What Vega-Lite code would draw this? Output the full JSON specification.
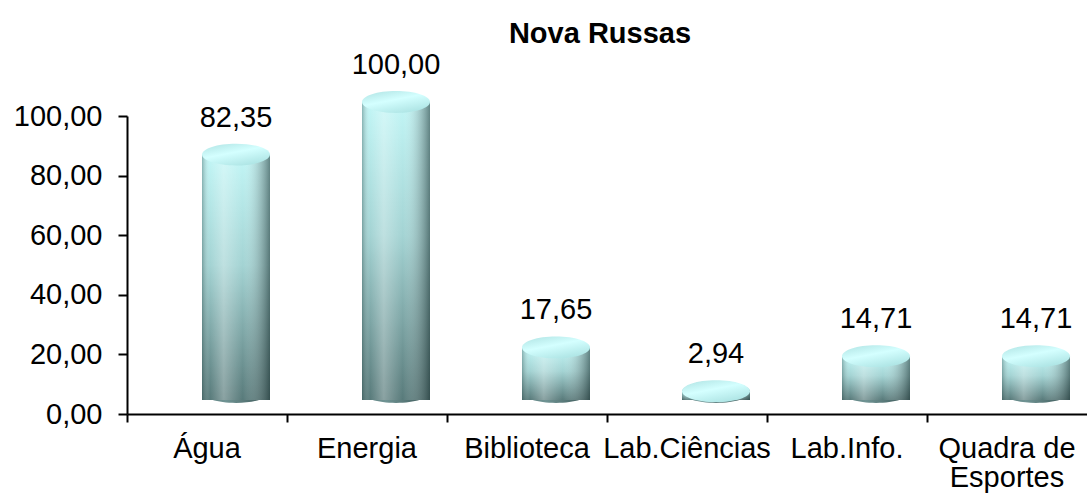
{
  "$schema": "https://vega.github.io/schema/vega-lite/v6.json",
  "autosize": "none",
  "width": 960,
  "height": 298,
  "padding": {"left": 127, "top": 116, "right": 0, "bottom": 83},
  "background": "white",
  "title": {"text": "Nova Russas", "font": "Liberation Sans", "fontSize": 29, "fontWeight": "bold", "color": "black", "anchor": "middle", "frame": "group", "baseline": "alphabetic", "offset": -21, "dx": -7},
  "data": {"values": [
    {"categoria": "Água", "valor": 82.35},
    {"categoria": "Energia", "valor": 100.0},
    {"categoria": "Biblioteca", "valor": 17.65},
    {"categoria": "Lab.Ciências", "valor": 2.94},
    {"categoria": "Lab.Info.", "valor": 14.71},
    {"categoria": "Quadra de Esportes", "valor": 14.71}
  ]},
  "encoding": {
    "x": {"field": "categoria", "type": "nominal", "sort": null, "title": null,
      "scale": {"paddingInner": 0, "paddingOuter": 0},
      "axis": {"labelAngle": 0, "bandPosition": 0, "domainColor": "black", "domainWidth": 2, "tickColor": "black", "tickWidth": 2, "tickSize": 8,
        "labelFont": "Liberation Sans", "labelFontSize": 29, "labelColor": "black", "labelPadding": 12, "labelBound": false, "labelOverlap": false, "labelFlush": false,
        "labelExpr": "datum.label == 'Quadra de Esportes' ? ['Quadra de', 'Esportes'] : datum.label", "labelLineHeight": 29}}
  },
  "layer": [
    {
      "mark": {"type": "point", "filled": true, "shape": "M-1,0A1,0.32,0,1,0,1,0A1,0.32,0,1,0,-1,0Z", "size": 4624, "xOffset": 29, "yOffset": -22, "opacity": 1,
        "fill": {"gradient": "linear", "x1": 0, "y1": 0, "x2": 1, "y2": 0, "stops": [{"offset": 0, "color": "#5a7c7c"}, {"offset": 0.35, "color": "#6f9393"}, {"offset": 1, "color": "#3b5656"}]}},
      "encoding": {"y": {"datum": 0, "type": "quantitative"}}
    },
    {
      "mark": {"type": "bar", "width": 68, "xOffset": 29, "yOffset": -14, "y2Offset": -22,
        "fill": {"gradient": "linear", "x1": 0, "y1": 0, "x2": 0, "y2": 1, "stops": [{"offset": 0, "color": "#c2f6f6"}, {"offset": 0.45, "color": "#a3d3d3"}, {"offset": 1, "color": "#587a7a"}]}},
      "encoding": {
        "y": {"field": "valor", "type": "quantitative", "title": null,
          "scale": {"domain": [0, 100], "nice": false},
          "axis": {"values": [0, 20, 40, 60, 80, 100], "format": ".2f", "grid": false, "domainColor": "black", "domainWidth": 2, "tickColor": "black", "tickWidth": 2, "tickSize": 9,
            "labelFont": "Liberation Sans", "labelFontSize": 29, "labelColor": "black", "labelPadding": 16}}
      }
    },
    {
      "mark": {"type": "bar", "width": 68, "xOffset": 29, "yOffset": -14, "y2Offset": -22,
        "fill": {"gradient": "linear", "x1": 0, "y1": 0, "x2": 1, "y2": 0, "stops": [{"offset": 0, "color": "rgba(30,60,60,0.35)"}, {"offset": 0.12, "color": "rgba(255,255,255,0)"}, {"offset": 0.32, "color": "rgba(255,255,255,0.3)"}, {"offset": 0.6, "color": "rgba(255,255,255,0)"}, {"offset": 1, "color": "rgba(20,40,40,0.55)"}]}},
      "encoding": {"y": {"field": "valor", "type": "quantitative"}}
    },
    {
      "mark": {"type": "point", "filled": true, "shape": "M-1,0A1,0.32,0,1,0,1,0A1,0.32,0,1,0,-1,0Z", "size": 4624, "xOffset": 29, "yOffset": -14, "opacity": 1,
        "fill": {"gradient": "linear", "x1": 0, "y1": 0, "x2": 0.6, "y2": 1, "stops": [{"offset": 0, "color": "#aee2e2"}, {"offset": 0.5, "color": "#d4ffff"}, {"offset": 1, "color": "#b0e6e6"}]}},
      "encoding": {"y": {"field": "valor", "type": "quantitative"}}
    },
    {
      "mark": {"type": "text", "xOffset": 29, "dy": -42, "baseline": "alphabetic", "font": "Liberation Sans", "fontSize": 29, "color": "black", "clip": false},
      "encoding": {
        "y": {"field": "valor", "type": "quantitative"},
        "text": {"field": "valor", "type": "quantitative", "format": ".2f"}
      }
    }
  ],
  "config": {
    "view": {"stroke": null},
    "locale": {"number": {"decimal": ",", "thousands": ".", "grouping": [3], "currency": ["R$", ""]}}
  }
}
